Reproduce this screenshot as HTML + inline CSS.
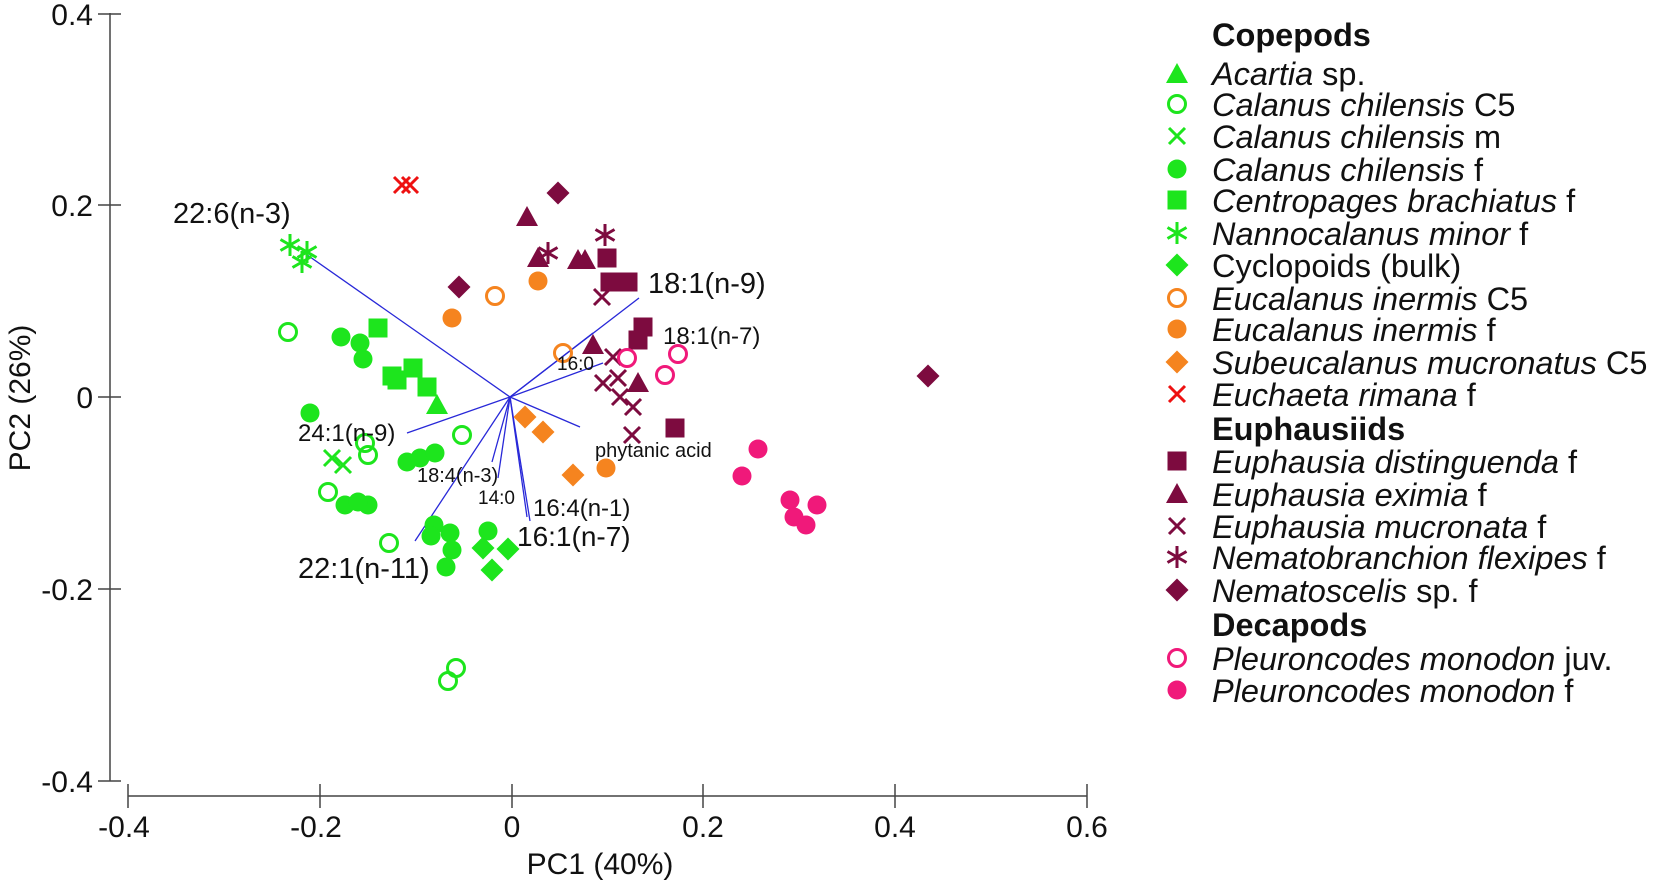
<!DOCTYPE html>
<html><head><meta charset="utf-8"><style>
html,body{margin:0;padding:0;background:#fff}
svg{display:block}
text{font-family:"Liberation Sans",Arial,sans-serif;fill:#111}
</style></head><body>
<svg width="1656" height="882" viewBox="0 0 1656 882" xmlns="http://www.w3.org/2000/svg">
<defs>
<polygon id="tri" points="0,-11 11,9 -11,9"/>
<circle id="c" r="9.5"/>
<circle id="oc" r="8.5" fill="none" stroke-width="3"/>
<rect id="sq" x="-9.5" y="-9.5" width="19" height="19"/>
<polygon id="dia" points="0,-11.5 11.5,0 0,11.5 -11.5,0"/>
<path id="x" d="M-8,-8L8,8M-8,8L8,-8" fill="none" stroke-width="3"/>
<path id="ast" d="M0,-11V11M-9.5,-5.5L9.5,5.5M-9.5,5.5L9.5,-5.5" fill="none" stroke-width="3"/>
</defs>
<g stroke="#444" stroke-width="1.5" fill="none">
<line x1="110" y1="13" x2="110" y2="781"/>
<line x1="98" y1="14" x2="121" y2="14"/>
<line x1="98" y1="205" x2="121" y2="205"/>
<line x1="98" y1="397" x2="121" y2="397"/>
<line x1="98" y1="589" x2="121" y2="589"/>
<line x1="98" y1="781" x2="121" y2="781"/>
<line x1="128" y1="796" x2="1087" y2="796"/>
<line x1="128" y1="784" x2="128" y2="808"/>
<line x1="320" y1="784" x2="320" y2="808"/>
<line x1="512" y1="784" x2="512" y2="808"/>
<line x1="703" y1="784" x2="703" y2="808"/>
<line x1="895" y1="784" x2="895" y2="808"/>
<line x1="1087" y1="784" x2="1087" y2="808"/>
</g>
<g font-size="30" text-anchor="end">
<text x="93" y="25">0.4</text>
<text x="93" y="216">0.2</text>
<text x="93" y="408">0</text>
<text x="93" y="600">-0.2</text>
<text x="93" y="792">-0.4</text>
</g>
<g font-size="30" text-anchor="middle">
<text x="124" y="837">-0.4</text>
<text x="316" y="837">-0.2</text>
<text x="512" y="837">0</text>
<text x="703" y="837">0.2</text>
<text x="895" y="837">0.4</text>
<text x="1087" y="837">0.6</text>
<text x="600" y="874">PC1 (40%)</text>
<text transform="translate(30,398) rotate(-90)">PC2 (26%)</text>
</g>
<g stroke="#2828d8" stroke-width="1.3">
<line x1="510" y1="397" x2="303" y2="252"/>
<line x1="510" y1="397" x2="639" y2="298"/>
<line x1="510" y1="397" x2="593" y2="333"/>
<line x1="510" y1="397" x2="603" y2="363"/>
<line x1="510" y1="397" x2="580" y2="427"/>
<line x1="510" y1="397" x2="407" y2="433"/>
<line x1="510" y1="397" x2="415" y2="541"/>
<line x1="510" y1="397" x2="492" y2="462"/>
<line x1="510" y1="397" x2="498" y2="478"/>
<line x1="510" y1="397" x2="527" y2="517"/>
<line x1="510" y1="397" x2="530" y2="521"/>
</g>
<g fill="#1de51d" stroke="#1de51d">
<use href="#tri" x="437" y="405" stroke="none"/>
<use href="#oc" x="288" y="332"/><use href="#oc" x="365" y="443"/><use href="#oc" x="368" y="455"/><use href="#oc" x="328" y="492"/><use href="#oc" x="389" y="543"/><use href="#oc" x="462" y="435"/><use href="#oc" x="456" y="668"/><use href="#oc" x="448" y="681"/>
<use href="#x" x="332" y="458"/><use href="#x" x="343" y="465"/>
<g stroke="none">
<use href="#c" x="341" y="337"/><use href="#c" x="360" y="343"/><use href="#c" x="363" y="359"/><use href="#c" x="310" y="413"/><use href="#c" x="345" y="505"/><use href="#c" x="368" y="505"/><use href="#c" x="358" y="502"/><use href="#c" x="407" y="462"/><use href="#c" x="420" y="458"/><use href="#c" x="435" y="453"/><use href="#c" x="434" y="525"/><use href="#c" x="450" y="533"/><use href="#c" x="452" y="550"/><use href="#c" x="446" y="567"/><use href="#c" x="431" y="536"/><use href="#c" x="488" y="531"/>
<use href="#sq" x="378" y="328"/><use href="#sq" x="392" y="376"/><use href="#sq" x="397" y="380"/><use href="#sq" x="413" y="368"/><use href="#sq" x="427" y="387"/>
<use href="#dia" x="483" y="548"/><use href="#dia" x="508" y="549"/><use href="#dia" x="492" y="570"/>
</g>
<use href="#ast" x="290" y="245"/><use href="#ast" x="307" y="252"/><use href="#ast" x="302" y="262"/>
</g>
<g fill="#f5841f" stroke="#f5841f">
<use href="#oc" x="495" y="296"/><use href="#oc" x="563" y="353"/>
<g stroke="none">
<use href="#c" x="538" y="281"/><use href="#c" x="452" y="318"/><use href="#c" x="606" y="468"/>
<use href="#dia" x="525" y="417"/><use href="#dia" x="543" y="432"/><use href="#dia" x="573" y="475"/>
</g>
</g>
<g stroke="#ee1111"><use href="#x" x="402" y="185"/><use href="#x" x="410" y="185"/></g>
<g fill="#7d0b3f" stroke="#7d0b3f">
<g stroke="none">
<use href="#sq" x="607" y="258"/><use href="#sq" x="610" y="282"/><use href="#sq" x="628" y="282"/><use href="#sq" x="643" y="327"/><use href="#sq" x="638" y="340"/><use href="#sq" x="675" y="428"/>
<use href="#tri" x="527" y="217"/><use href="#tri" x="538" y="258"/><use href="#tri" x="578" y="260"/><use href="#tri" x="585" y="260"/><use href="#tri" x="593" y="345"/><use href="#tri" x="638" y="383"/>
<use href="#dia" x="558" y="193"/><use href="#dia" x="459" y="287"/><use href="#dia" x="928" y="376"/>
</g>
<use href="#x" x="602" y="297"/><use href="#x" x="613" y="357"/><use href="#x" x="603" y="383"/><use href="#x" x="618" y="378"/><use href="#x" x="620" y="397"/><use href="#x" x="633" y="407"/><use href="#x" x="632" y="435"/>
<use href="#ast" x="605" y="235"/><use href="#ast" x="548" y="253"/>
</g>
<g fill="#f0197a" stroke="#f0197a">
<use href="#oc" x="627" y="358"/><use href="#oc" x="678" y="354"/><use href="#oc" x="665" y="375"/>
<g stroke="none">
<use href="#c" x="758" y="449"/><use href="#c" x="742" y="476"/><use href="#c" x="790" y="500"/><use href="#c" x="817" y="505"/><use href="#c" x="794" y="517"/><use href="#c" x="806" y="525"/>
</g>
</g>
<text x="173" y="223" font-size="29">22:6(n-3)</text>
<text x="648" y="293" font-size="29">18:1(n-9)</text>
<text x="663" y="344" font-size="24">18:1(n-7)</text>
<text x="557" y="370" font-size="19">16:0</text>
<text x="595" y="457" font-size="20">phytanic acid</text>
<text x="298" y="441" font-size="24">24:1(n-9)</text>
<text x="417" y="482" font-size="20">18:4(n-3)</text>
<text x="478" y="504" font-size="19">14:0</text>
<text x="533" y="516" font-size="24">16:4(n-1)</text>
<text x="517" y="546" font-size="28">16:1(n-7)</text>
<text x="298" y="578" font-size="29">22:1(n-11)</text>
<g font-size="32.5">
<text x="1212" y="46" font-weight="bold">Copepods</text>
<text x="1212" y="85"><tspan font-style="italic">Acartia</tspan> sp.</text>
<text x="1212" y="116"><tspan font-style="italic">Calanus chilensis</tspan> C5</text>
<text x="1212" y="148"><tspan font-style="italic">Calanus chilensis</tspan> m</text>
<text x="1212" y="181"><tspan font-style="italic">Calanus chilensis</tspan> f</text>
<text x="1212" y="212"><tspan font-style="italic">Centropages brachiatus</tspan> f</text>
<text x="1212" y="245"><tspan font-style="italic">Nannocalanus minor</tspan> f</text>
<text x="1212" y="277">Cyclopoids (bulk)</text>
<text x="1212" y="310"><tspan font-style="italic">Eucalanus inermis</tspan> C5</text>
<text x="1212" y="341"><tspan font-style="italic">Eucalanus inermis</tspan> f</text>
<text x="1212" y="374"><tspan font-style="italic">Subeucalanus mucronatus</tspan> C5</text>
<text x="1212" y="406"><tspan font-style="italic">Euchaeta rimana</tspan> f</text>
<text x="1212" y="440" font-weight="bold">Euphausiids</text>
<text x="1212" y="473"><tspan font-style="italic">Euphausia distinguenda</tspan> f</text>
<text x="1212" y="506"><tspan font-style="italic">Euphausia eximia</tspan> f</text>
<text x="1212" y="538"><tspan font-style="italic">Euphausia mucronata</tspan> f</text>
<text x="1212" y="569"><tspan font-style="italic">Nematobranchion flexipes</tspan> f</text>
<text x="1212" y="602"><tspan font-style="italic">Nematoscelis</tspan> sp. f</text>
<text x="1212" y="636" font-weight="bold">Decapods</text>
<text x="1212" y="670"><tspan font-style="italic">Pleuroncodes monodon</tspan> juv.</text>
<text x="1212" y="702"><tspan font-style="italic">Pleuroncodes monodon</tspan> f</text>
</g>
<g>
<use href="#tri" x="1177" y="74" fill="#1de51d"/>
<use href="#oc" x="1177" y="104" stroke="#1de51d"/>
<use href="#x" x="1177" y="136" stroke="#1de51d"/>
<use href="#c" x="1177" y="169" fill="#1de51d"/>
<use href="#sq" x="1177" y="200" fill="#1de51d"/>
<use href="#ast" x="1177" y="233" stroke="#1de51d"/>
<use href="#dia" x="1177" y="265" fill="#1de51d"/>
<use href="#oc" x="1177" y="298" stroke="#f5841f"/>
<use href="#c" x="1177" y="329" fill="#f5841f"/>
<use href="#dia" x="1177" y="362" fill="#f5841f"/>
<use href="#x" x="1177" y="394" stroke="#ee1111"/>
<use href="#sq" x="1177" y="461" fill="#7d0b3f"/>
<use href="#tri" x="1177" y="494" fill="#7d0b3f"/>
<use href="#x" x="1177" y="526" stroke="#7d0b3f"/>
<use href="#ast" x="1177" y="557" stroke="#7d0b3f"/>
<use href="#dia" x="1177" y="590" fill="#7d0b3f"/>
<use href="#oc" x="1177" y="658" stroke="#f0197a"/>
<use href="#c" x="1177" y="690" fill="#f0197a"/>
</g>
</svg>
</body></html>
